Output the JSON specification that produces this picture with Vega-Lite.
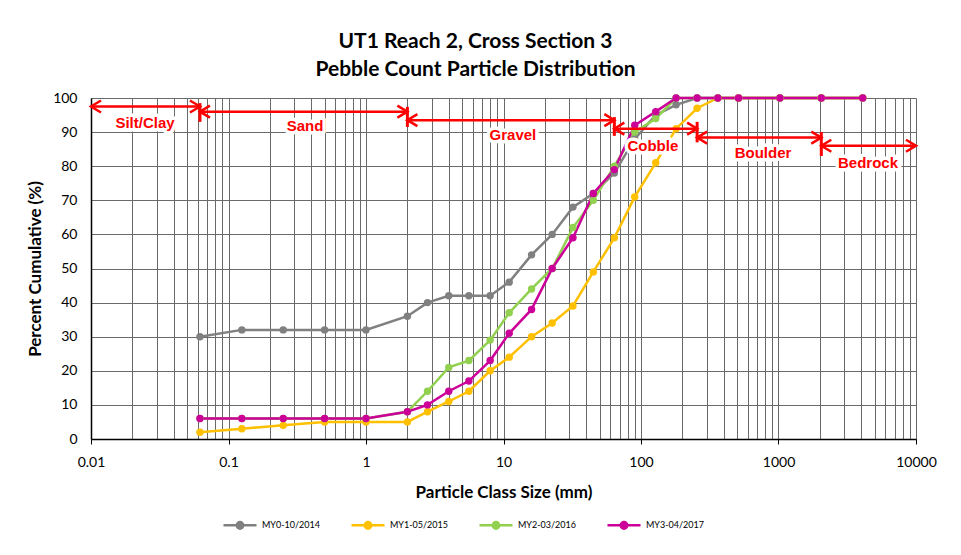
{
  "$schema": "https://vega.github.io/schema/vega-lite/v6.json",
  "width": 825,
  "height": 341,
  "autosize": {"type": "none"},
  "padding": {"left": 91, "top": 98, "right": 45, "bottom": 116},
  "background": "white",
  "title": {
    "text": ["UT1 Reach 2, Cross Section 3", "Pebble Count Particle Distribution"],
    "font": "Lato", "fontSize": 21, "fontWeight": "bold", "color": "#000000",
    "anchor": "middle", "dx": -28, "offset": 11, "lineHeight": 28
  },
  "config": {
    "view": {"stroke": null},
    "font": "Lato"
  },
  "encoding": {
    "x": {
      "field": "size", "type": "quantitative",
      "scale": {"type": "log", "domain": [0.01, 10000], "nice": false},
      "axis": {
        "title": "Particle Class Size (mm)",
        "titleFont": "Lato", "titleFontSize": 17, "titleFontWeight": "bold", "titleColor": "#000000", "titlePadding": 15,
        "values": [0.01,0.02,0.03,0.04,0.05,0.06,0.07,0.08,0.09,0.1,0.2,0.3,0.4,0.5,0.6,0.7,0.8,0.9,1,2,3,4,5,6,7,8,9,10,20,30,40,50,60,70,80,90,100,200,300,400,500,600,700,800,900,1000,2000,3000,4000,5000,6000,7000,8000,9000,10000],
        "labelExpr": "indexof([0.01,0.1,1,10,100,1000,10000], datum.value) >= 0 ? format(datum.value, '~g') : ''",
        "labelOverlap": false, "labelFlush": false,
        "labelFont": "Lato", "labelFontSize": 14, "labelColor": "#000000", "labelPadding": 11,
        "tickSize": 5, "tickColor": "#000000",
        "tickOpacity": {"condition": {"test": "indexof([0.01,0.1,1,10,100,1000,10000], datum.value) >= 0", "value": 1}, "value": 0},
        "domainColor": "#000000", "domainWidth": 1.5,
        "grid": true, "gridColor": "#6a6a6a", "gridWidth": 1
      }
    },
    "y": {
      "field": "pct", "type": "quantitative",
      "scale": {"domain": [0, 100], "nice": false},
      "axis": {
        "title": "Percent Cumulative (%)",
        "titleFont": "Lato", "titleFontSize": 17, "titleFontWeight": "bold", "titleColor": "#000000", "titlePadding": 8,
        "values": [0,10,20,30,40,50,60,70,80,90,100],
        "labelOverlap": false,
        "labelFont": "Lato", "labelFontSize": 14, "labelColor": "#000000", "labelPadding": 14,
        "ticks": false,
        "domainColor": "#000000", "domainWidth": 1.5,
        "grid": true, "gridColor": "#6a6a6a", "gridWidth": 1
      }
    }
  },
  "layer": [
    {
      "data": {"values": [
        {"series": "MY0-10/2014", "size": 0.062, "pct": 30},
        {"series": "MY0-10/2014", "size": 0.125, "pct": 32},
        {"series": "MY0-10/2014", "size": 0.25, "pct": 32},
        {"series": "MY0-10/2014", "size": 0.5, "pct": 32},
        {"series": "MY0-10/2014", "size": 1, "pct": 32},
        {"series": "MY0-10/2014", "size": 2, "pct": 36},
        {"series": "MY0-10/2014", "size": 2.8, "pct": 40},
        {"series": "MY0-10/2014", "size": 4, "pct": 42},
        {"series": "MY0-10/2014", "size": 5.6, "pct": 42},
        {"series": "MY0-10/2014", "size": 8, "pct": 42},
        {"series": "MY0-10/2014", "size": 11, "pct": 46},
        {"series": "MY0-10/2014", "size": 16, "pct": 54},
        {"series": "MY0-10/2014", "size": 22.6, "pct": 60},
        {"series": "MY0-10/2014", "size": 32, "pct": 68},
        {"series": "MY0-10/2014", "size": 45, "pct": 72},
        {"series": "MY0-10/2014", "size": 64, "pct": 78},
        {"series": "MY0-10/2014", "size": 90, "pct": 88},
        {"series": "MY0-10/2014", "size": 128, "pct": 95},
        {"series": "MY0-10/2014", "size": 180, "pct": 98},
        {"series": "MY0-10/2014", "size": 256, "pct": 100},
        {"series": "MY0-10/2014", "size": 362, "pct": 100},
        {"series": "MY0-10/2014", "size": 512, "pct": 100},
        {"series": "MY0-10/2014", "size": 1024, "pct": 100},
        {"series": "MY0-10/2014", "size": 2048, "pct": 100},
        {"series": "MY0-10/2014", "size": 4096, "pct": 100},
        {"series": "MY1-05/2015", "size": 0.062, "pct": 2},
        {"series": "MY1-05/2015", "size": 0.125, "pct": 3},
        {"series": "MY1-05/2015", "size": 0.25, "pct": 4},
        {"series": "MY1-05/2015", "size": 0.5, "pct": 5},
        {"series": "MY1-05/2015", "size": 1, "pct": 5},
        {"series": "MY1-05/2015", "size": 2, "pct": 5},
        {"series": "MY1-05/2015", "size": 2.8, "pct": 8},
        {"series": "MY1-05/2015", "size": 4, "pct": 11},
        {"series": "MY1-05/2015", "size": 5.6, "pct": 14},
        {"series": "MY1-05/2015", "size": 8, "pct": 20},
        {"series": "MY1-05/2015", "size": 11, "pct": 24},
        {"series": "MY1-05/2015", "size": 16, "pct": 30},
        {"series": "MY1-05/2015", "size": 22.6, "pct": 34},
        {"series": "MY1-05/2015", "size": 32, "pct": 39},
        {"series": "MY1-05/2015", "size": 45, "pct": 49},
        {"series": "MY1-05/2015", "size": 64, "pct": 59},
        {"series": "MY1-05/2015", "size": 90, "pct": 71},
        {"series": "MY1-05/2015", "size": 128, "pct": 81},
        {"series": "MY1-05/2015", "size": 180, "pct": 91},
        {"series": "MY1-05/2015", "size": 256, "pct": 97},
        {"series": "MY1-05/2015", "size": 362, "pct": 100},
        {"series": "MY1-05/2015", "size": 512, "pct": 100},
        {"series": "MY1-05/2015", "size": 1024, "pct": 100},
        {"series": "MY1-05/2015", "size": 2048, "pct": 100},
        {"series": "MY1-05/2015", "size": 4096, "pct": 100},
        {"series": "MY2-03/2016", "size": 0.062, "pct": 6},
        {"series": "MY2-03/2016", "size": 0.125, "pct": 6},
        {"series": "MY2-03/2016", "size": 0.25, "pct": 6},
        {"series": "MY2-03/2016", "size": 0.5, "pct": 6},
        {"series": "MY2-03/2016", "size": 1, "pct": 6},
        {"series": "MY2-03/2016", "size": 2, "pct": 8},
        {"series": "MY2-03/2016", "size": 2.8, "pct": 14},
        {"series": "MY2-03/2016", "size": 4, "pct": 21},
        {"series": "MY2-03/2016", "size": 5.6, "pct": 23},
        {"series": "MY2-03/2016", "size": 8, "pct": 29},
        {"series": "MY2-03/2016", "size": 11, "pct": 37},
        {"series": "MY2-03/2016", "size": 16, "pct": 44},
        {"series": "MY2-03/2016", "size": 22.6, "pct": 50},
        {"series": "MY2-03/2016", "size": 32, "pct": 62},
        {"series": "MY2-03/2016", "size": 45, "pct": 70},
        {"series": "MY2-03/2016", "size": 64, "pct": 80},
        {"series": "MY2-03/2016", "size": 90, "pct": 90},
        {"series": "MY2-03/2016", "size": 128, "pct": 94},
        {"series": "MY2-03/2016", "size": 180, "pct": 100},
        {"series": "MY2-03/2016", "size": 256, "pct": 100},
        {"series": "MY2-03/2016", "size": 362, "pct": 100},
        {"series": "MY2-03/2016", "size": 512, "pct": 100},
        {"series": "MY2-03/2016", "size": 1024, "pct": 100},
        {"series": "MY2-03/2016", "size": 2048, "pct": 100},
        {"series": "MY2-03/2016", "size": 4096, "pct": 100},
        {"series": "MY3-04/2017", "size": 0.062, "pct": 6},
        {"series": "MY3-04/2017", "size": 0.125, "pct": 6},
        {"series": "MY3-04/2017", "size": 0.25, "pct": 6},
        {"series": "MY3-04/2017", "size": 0.5, "pct": 6},
        {"series": "MY3-04/2017", "size": 1, "pct": 6},
        {"series": "MY3-04/2017", "size": 2, "pct": 8},
        {"series": "MY3-04/2017", "size": 2.8, "pct": 10},
        {"series": "MY3-04/2017", "size": 4, "pct": 14},
        {"series": "MY3-04/2017", "size": 5.6, "pct": 17},
        {"series": "MY3-04/2017", "size": 8, "pct": 23},
        {"series": "MY3-04/2017", "size": 11, "pct": 31},
        {"series": "MY3-04/2017", "size": 16, "pct": 38},
        {"series": "MY3-04/2017", "size": 22.6, "pct": 50},
        {"series": "MY3-04/2017", "size": 32, "pct": 59},
        {"series": "MY3-04/2017", "size": 45, "pct": 72},
        {"series": "MY3-04/2017", "size": 64, "pct": 79},
        {"series": "MY3-04/2017", "size": 90, "pct": 92},
        {"series": "MY3-04/2017", "size": 128, "pct": 96},
        {"series": "MY3-04/2017", "size": 180, "pct": 100},
        {"series": "MY3-04/2017", "size": 256, "pct": 100},
        {"series": "MY3-04/2017", "size": 362, "pct": 100},
        {"series": "MY3-04/2017", "size": 512, "pct": 100},
        {"series": "MY3-04/2017", "size": 1024, "pct": 100},
        {"series": "MY3-04/2017", "size": 2048, "pct": 100},
        {"series": "MY3-04/2017", "size": 4096, "pct": 100}
      ]},
      "mark": {"type": "line", "strokeWidth": 2.5, "point": {"filled": true, "size": 55}},
      "encoding": {
        "color": {
          "field": "series", "type": "nominal",
          "scale": {
            "domain": ["MY0-10/2014", "MY1-05/2015", "MY2-03/2016", "MY3-04/2017"],
            "range": ["#808080", "#FFC000", "#92D050", "#CC0099"]
          },
          "legend": {
            "title": null, "orient": "none", "direction": "horizontal",
            "legendX": 131, "legendY": 409,
            "symbolType": "M-1,0H1M-0.2,0A0.2,0.2,0,1,1,0.2,0A0.2,0.2,0,1,1,-0.2,0",
            "symbolSize": 1089, "symbolStrokeWidth": 2.5,
            "labelFont": "Lato", "labelFontSize": 9, "labelColor": "#000000",
            "columnPadding": 26
          }
        }
      }
    },
    {
      "data": {"values": [
        {"size": 0.01, "size2": 0.062, "pct": 97.5},
        {"size": 0.062, "size2": 2, "pct": 96},
        {"size": 2, "size2": 64, "pct": 93.5},
        {"size": 64, "size2": 256, "pct": 91},
        {"size": 256, "size2": 2048, "pct": 88.4},
        {"size": 2048, "size2": 10000, "pct": 86}
      ]},
      "mark": {"type": "rule", "color": "#FF0000", "strokeWidth": 2.5},
      "encoding": {
        "x2": {"field": "size2"}
      }
    },
    {
      "data": {"values": [
        {"size": 0.062, "pct": 98.5, "pct2": 93},
        {"size": 2, "pct": 97.4, "pct2": 91.5},
        {"size": 64, "pct": 94.4, "pct2": 88.9},
        {"size": 256, "pct": 93, "pct2": 87},
        {"size": 2048, "pct": 90, "pct2": 83}
      ]},
      "mark": {"type": "rule", "color": "#FF0000", "strokeWidth": 3},
      "encoding": {
        "y2": {"field": "pct2"}
      }
    },
    {
      "data": {"values": [
        {"size": 0.01, "pct": 97.5, "dir": "L"},
        {"size": 0.062, "pct": 97.5, "dir": "R"},
        {"size": 0.062, "pct": 96, "dir": "L"},
        {"size": 2, "pct": 96, "dir": "R"},
        {"size": 2, "pct": 93.5, "dir": "L"},
        {"size": 64, "pct": 93.5, "dir": "R"},
        {"size": 64, "pct": 91, "dir": "L"},
        {"size": 256, "pct": 91, "dir": "R"},
        {"size": 256, "pct": 88.4, "dir": "L"},
        {"size": 2048, "pct": 88.4, "dir": "R"},
        {"size": 2048, "pct": 86, "dir": "L"},
        {"size": 10000, "pct": 86, "dir": "R"}
      ]},
      "mark": {"type": "point", "filled": false, "stroke": "#FF0000", "strokeWidth": 2.5, "size": 100, "opacity": 1},
      "encoding": {
        "shape": {
          "field": "dir", "type": "nominal", "legend": null,
          "scale": {"domain": ["L", "R"], "range": ["M2,-1.2L0,0L2,1.2", "M-2,-1.2L0,0L-2,1.2"]}
        }
      }
    },
    {
      "data": {"values": [
        {"size": 0.0247, "pct": 92.7, "label": "Silt/Clay"},
        {"size": 0.36, "pct": 91.8, "label": "Sand"},
        {"size": 11.7, "pct": 89.1, "label": "Gravel"},
        {"size": 122, "pct": 85.9, "label": "Cobble"},
        {"size": 771, "pct": 83.9, "label": "Boulder"},
        {"size": 4480, "pct": 80.9, "label": "Bedrock"}
      ]},
      "layer": [
        {"mark": {"type": "text", "font": "Liberation Sans", "fontSize": 15, "fontWeight": "bold", "fill": "white", "stroke": "white", "strokeWidth": 7, "strokeJoin": "round"}},
        {"mark": {"type": "text", "font": "Liberation Sans", "fontSize": 15, "fontWeight": "bold", "color": "#FF0000"}}
      ],
      "encoding": {
        "text": {"field": "label"}
      }
    }
  ]
}
